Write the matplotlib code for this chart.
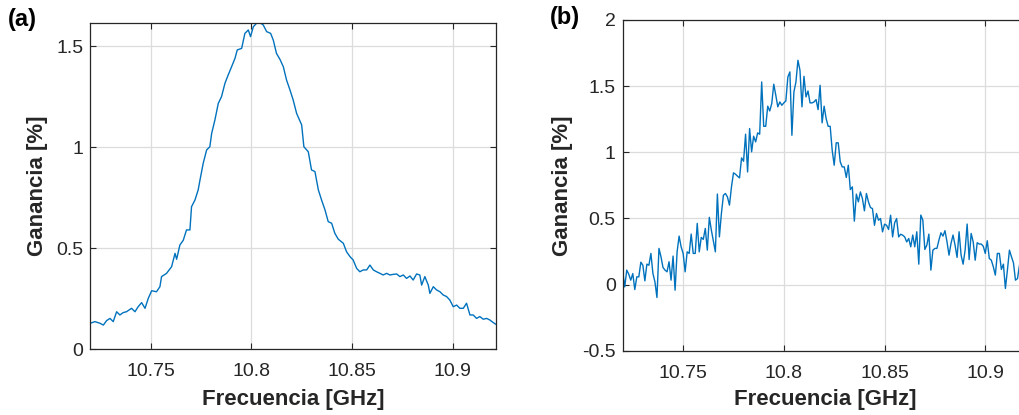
import numpy as np
import matplotlib
matplotlib.use("Agg")
import matplotlib.pyplot as plt

plt.rcParams['font.family'] = ['Liberation Sans', 'DejaVu Sans']

# (a) smooth gain curve
freq_a = [10.7200, 10.7223, 10.7248, 10.7265, 10.7281, 10.7298, 10.7314, 10.7331, 10.7347, 10.7364,
          10.7380, 10.7405, 10.7422, 10.7438, 10.7455, 10.7472, 10.7488, 10.7505, 10.7529, 10.7546,
          10.7554, 10.7579, 10.7604, 10.7621, 10.7629, 10.7645, 10.7662, 10.7678, 10.7695, 10.7703,
          10.7720, 10.7736, 10.7745, 10.7761, 10.7778, 10.7794, 10.7803, 10.7819, 10.7836, 10.7852,
          10.7869, 10.7885, 10.7902, 10.7919, 10.7930, 10.7952, 10.7968, 10.7985, 10.7996, 10.8010,
          10.8026, 10.8043, 10.8059, 10.8076, 10.8096, 10.8109, 10.8125, 10.8142, 10.8159, 10.8175,
          10.8192, 10.8208, 10.8225, 10.8250, 10.8261, 10.8283, 10.8299, 10.8316, 10.8333, 10.8349,
          10.8366, 10.8382, 10.8399, 10.8415, 10.8432, 10.8457, 10.8473, 10.8490, 10.8506, 10.8523,
          10.8539, 10.8556, 10.8573, 10.8589, 10.8606, 10.8622, 10.8639, 10.8655, 10.8672, 10.8688,
          10.8705, 10.8722, 10.8738, 10.8755, 10.8771, 10.8788, 10.8804, 10.8821, 10.8837, 10.8846,
          10.8862, 10.8879, 10.8887, 10.8904, 10.8920, 10.8937, 10.8953, 10.8970, 10.8986, 10.9003,
          10.9020, 10.9036, 10.9053, 10.9069, 10.9086, 10.9102, 10.9119, 10.9135, 10.9152, 10.9169,
          10.9185, 10.9202, 10.9213]
gain_a = [0.129, 0.137, 0.129, 0.120, 0.142, 0.153, 0.137, 0.186, 0.170, 0.182,
          0.186, 0.203, 0.186, 0.211, 0.231, 0.203, 0.252, 0.290, 0.285, 0.310,
          0.360, 0.376, 0.409, 0.475, 0.446, 0.516, 0.540, 0.591, 0.591, 0.706,
          0.739, 0.789, 0.838, 0.921, 0.987, 1.003, 1.069, 1.135, 1.218, 1.251,
          1.317, 1.358, 1.399, 1.441, 1.482, 1.490, 1.564, 1.581, 1.548, 1.597,
          1.614, 1.617, 1.606, 1.573, 1.564, 1.531, 1.465, 1.436, 1.399, 1.333,
          1.284, 1.234, 1.168, 1.111, 1.003, 0.978, 0.888, 0.880, 0.789, 0.739,
          0.690, 0.632, 0.624, 0.574, 0.545, 0.525, 0.483, 0.459, 0.442, 0.401,
          0.384, 0.393, 0.393, 0.417, 0.393, 0.384, 0.376, 0.368, 0.376, 0.368,
          0.371, 0.373, 0.360, 0.368, 0.351, 0.363, 0.343, 0.373, 0.368, 0.318,
          0.360, 0.318, 0.277, 0.310, 0.294, 0.285, 0.269, 0.261, 0.244, 0.211,
          0.219, 0.203, 0.203, 0.228, 0.170, 0.170, 0.153, 0.162, 0.149, 0.153,
          0.145, 0.132, 0.125]

# (b) noisy gain curve, sweep from 10.72 GHz in 1 MHz steps
f0_b = 10.72
df_b = 0.001
gain_b = [0.096, -0.018, 0.109, 0.078, 0.033, 0.083, -0.038, 0.058, 0.058, 0.169,
          0.146, 0.028, 0.154, 0.146, 0.235, 0.083, 0.020, -0.098, 0.273, 0.210,
          0.129, 0.109, 0.096, 0.172, 0.033, 0.215, -0.043, 0.247, 0.366, 0.285,
          0.235, 0.096, 0.247, 0.235, 0.381, 0.235, 0.235, 0.462, 0.247, 0.356,
          0.341, 0.424, 0.260, 0.508, 0.412, 0.331, 0.247, 0.684, 0.360, 0.537,
          0.675, 0.688, 0.662, 0.600, 0.738, 0.844, 0.834, 0.819, 0.806, 0.957,
          0.932, 1.136, 0.851, 1.179, 1.003, 1.121, 1.078, 1.146, 1.136, 1.531,
          1.196, 1.196, 1.348, 1.312, 1.368, 1.514, 1.431, 1.343, 1.380, 1.355,
          1.373, 1.388, 1.569, 1.607, 1.128, 1.456, 1.531, 1.695, 1.620, 1.343,
          1.574, 1.418, 1.463, 1.373, 1.373, 1.380, 1.398, 1.322, 1.506, 1.222,
          1.348, 1.254, 1.196, 1.196, 1.015, 0.902, 1.071, 1.071, 0.927, 0.889,
          0.889, 0.809, 0.902, 0.718, 0.738, 0.479, 0.683, 0.625, 0.700, 0.650,
          0.557, 0.688, 0.625, 0.582, 0.574, 0.448, 0.537, 0.486, 0.499, 0.398,
          0.456, 0.448, 0.416, 0.524, 0.360, 0.466, 0.499, 0.360, 0.380, 0.373,
          0.360, 0.322, 0.348, 0.285, 0.374, 0.285, 0.399, 0.154, 0.525, 0.487,
          0.265, 0.298, 0.381, 0.109, 0.260, 0.273, 0.273, 0.336, 0.391, 0.366,
          0.407, 0.323, 0.222, 0.311, 0.374, 0.298, 0.205, 0.399, 0.222, 0.154,
          0.260, 0.457, 0.189, 0.386, 0.323, 0.184, 0.316, 0.306, 0.306, 0.290,
          0.235, 0.331, 0.197, 0.184, 0.134, 0.071, 0.235, 0.235, 0.114, 0.154,
          -0.030, 0.109, 0.260, 0.210, 0.164, 0.033, 0.045, 0.146]
freq_b = f0_b + df_b * np.arange(len(gain_b))

xticks = [10.75, 10.8, 10.85, 10.9]
xtick_labels = ['10.75', '10.8', '10.85', '10.9']
yticks_a = [0, 0.5, 1, 1.5]
ytick_labels_a = ['0', '0.5', '1', '1.5']
yticks_b = [-0.5, 0, 0.5, 1, 1.5, 2]
ytick_labels_b = ['-0.5', '0', '0.5', '1', '1.5', '2']

line_color = '#0072BD'
dark = '#262626'

fig = plt.figure(figsize=(10.2, 4.15), dpi=100)
ax_a = fig.add_axes([0.0885, 0.1583, 0.3975, 0.787])
ax_b = fig.add_axes([0.6105, 0.155, 0.3977, 0.797])


def style(ax, yticks, ylabels):
    ax.set_xticks(xticks)
    ax.set_xticklabels(xtick_labels)
    ax.set_yticks(yticks)
    ax.set_yticklabels(ylabels)
    ax.grid(True, color='#dcdcdc', linewidth=0.9)
    ax.set_axisbelow(True)
    ax.tick_params(direction='in', length=4, width=0.8, colors=dark,
                   labelsize=14, top=True, right=True)
    ax.tick_params(axis='x', pad=10)
    ax.tick_params(axis='y', pad=5)
    for s in ax.spines.values():
        s.set_color(dark)
        s.set_linewidth(0.9)
    ax.set_xlabel('Frecuencia [GHz]', fontsize=16, fontweight='bold', color=dark)
    ax.set_ylabel('Ganancia [%]', fontsize=16, fontweight='bold', color=dark)


ax_a.plot(freq_a, gain_a, color=line_color, linewidth=1.0)
ax_a.set_xlim(10.72, 10.9214)
ax_a.set_ylim(0, 1.617)
style(ax_a, yticks_a, ytick_labels_a)
ax_a.yaxis.set_label_coords(-0.104, 0.5)
ax_a.xaxis.set_label_coords(0.5, -0.122)

ax_b.plot(freq_b, gain_b, color=line_color, linewidth=1.0)
ax_b.set_xlim(10.72, 10.9214)
ax_b.set_ylim(-0.5, 2)
style(ax_b, yticks_b, ytick_labels_b)
ax_b.yaxis.set_label_coords(-0.122, 0.5)
ax_b.xaxis.set_label_coords(0.5, -0.117)

fig.text(8 / 1020, 1 - 8 / 415, '(a)', fontsize=17, fontweight='bold', va='top', ha='left')
fig.text(550 / 1020, 1 - 6 / 415, '(b)', fontsize=17, fontweight='bold', va='top', ha='left')

fig.savefig('out.png', dpi=100)
